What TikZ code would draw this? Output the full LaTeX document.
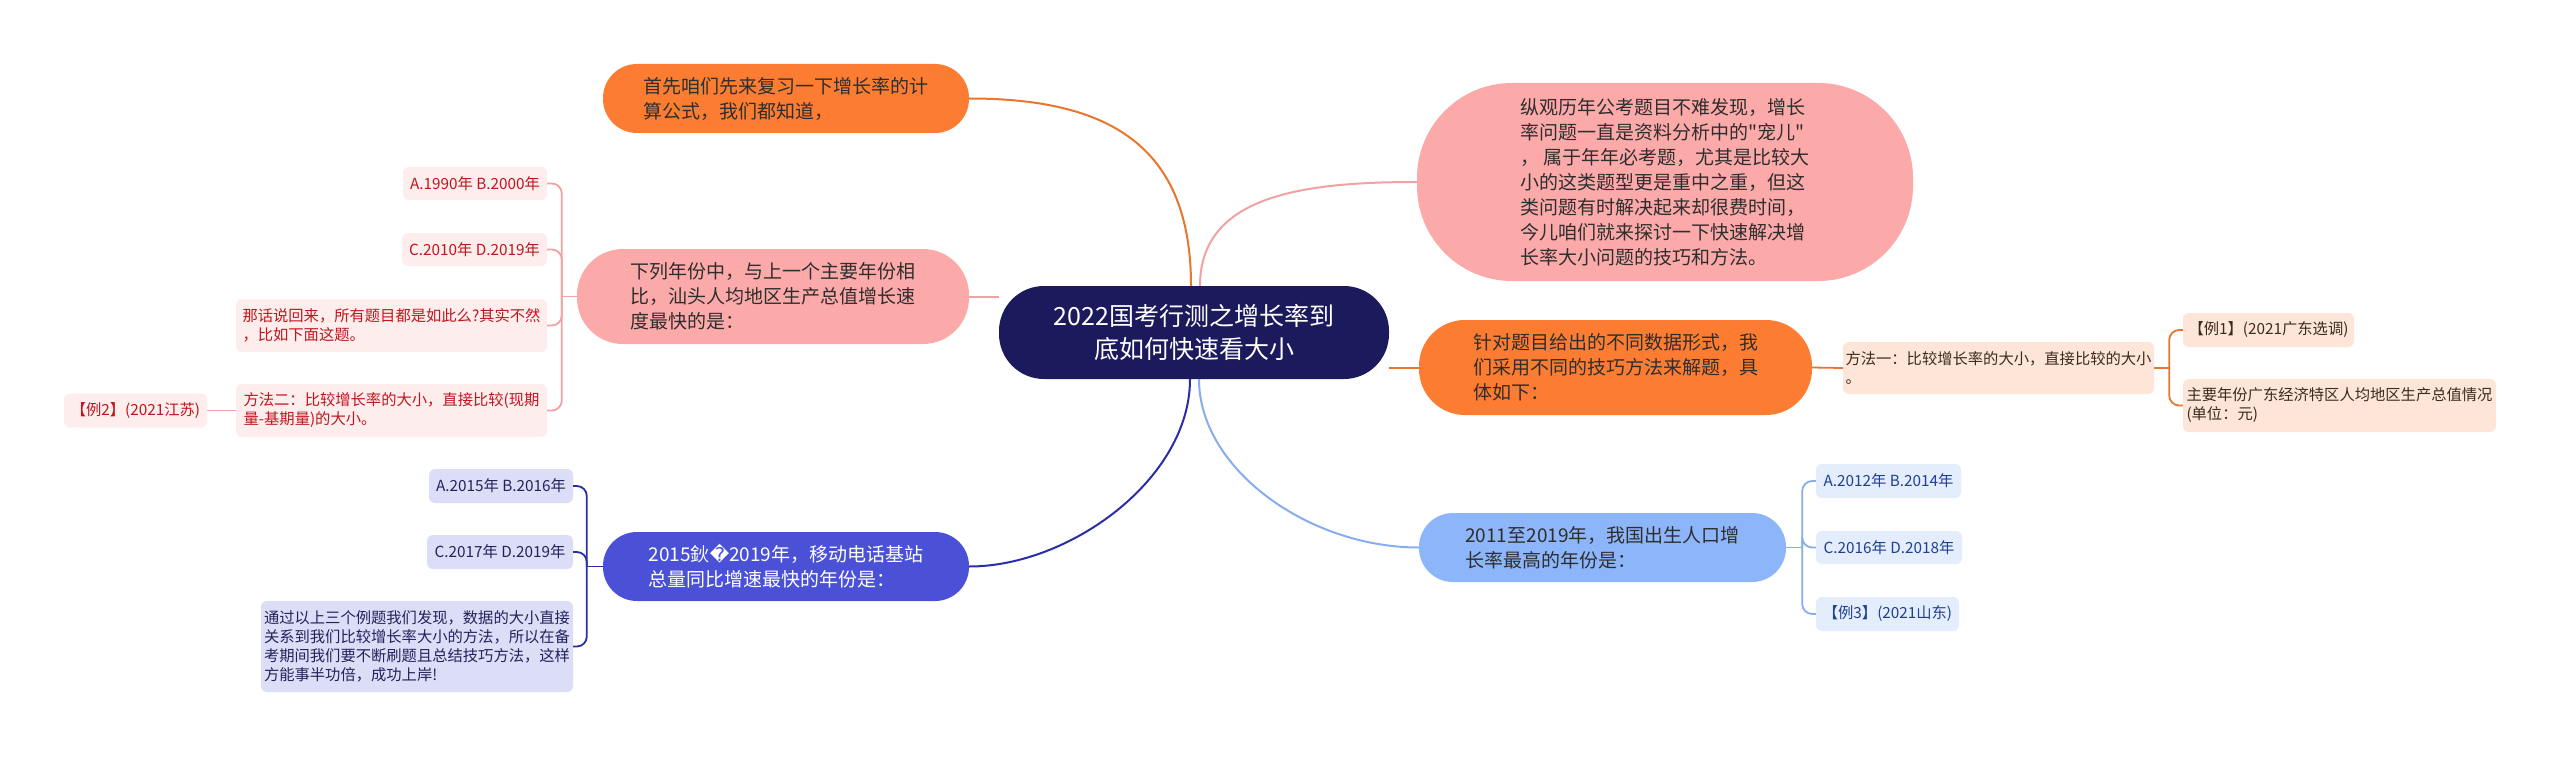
\documentclass[tikz,border=0pt]{standalone}
\usepackage{fontspec}
\setmainfont{Noto Sans CJK SC}
\newfontfamily\plainq{Noto Sans CJK SC}
\newfontfamily\dejavu{DejaVu Sans}
\definecolor{navy}{HTML}{1B1A5C}
\definecolor{orangeN}{HTML}{FC7D32}
\definecolor{pinkN}{HTML}{FCA9A9}
\definecolor{blueN}{HTML}{4A51D6}
\definecolor{lblueN}{HTML}{8DB5FA}
\definecolor{maintext}{HTML}{2E2E2E}
\definecolor{pinkLeaf}{HTML}{FDEDED}
\definecolor{pinkText}{HTML}{C0161E}
\definecolor{blueLeaf}{HTML}{DCDDF7}
\definecolor{blueText}{HTML}{22235A}
\definecolor{orangeLeaf}{HTML}{FDE5D8}
\definecolor{orangeText}{HTML}{3F2A1C}
\definecolor{lblueLeaf}{HTML}{E4EDFC}
\definecolor{lblueText}{HTML}{1F3F92}
\definecolor{orangeC}{HTML}{E9762F}
\definecolor{pinkC}{HTML}{F2A2A2}
\definecolor{blueC}{HTML}{2A2EA6}
\definecolor{lblueC}{HTML}{86AEEF}
\tikzset{
  mnode/.style={inner sep=0pt, font=\fontsize{19}{25}\selectfont, align=left, text=maintext},
  leaf/.style={inner sep=0pt, rounded corners=6pt, font=\fontsize{15.3}{19}\selectfont, align=left},
  pleaf/.style={leaf, fill=pinkLeaf, text=pinkText},
  bleaf/.style={leaf, fill=blueLeaf, text=blueText},
  oleaf/.style={leaf, fill=orangeLeaf, text=orangeText},
  cleaf/.style={leaf, fill=lblueLeaf, text=lblueText},
  conn/.style={line width=2pt},
  brk/.style={line width=1.8pt, rounded corners=10pt},
}
\begin{document}
\begin{tikzpicture}[x=1pt,y=-1pt]
\fill[white] (0,0) rectangle (2560,757);
\useasboundingbox (0,0) rectangle (2560,757);

% main nodes
\node[mnode, fill=navy, text=white, font=\fontsize{25}{33}\selectfont, align=center,
  minimum width=390pt, minimum height=93pt, rounded corners=45pt] (c) at (1194,332.5)
  {2022国考行测之增长率到\\底如何快速看大小};
\node[mnode, fill=orangeN, minimum width=366pt, minimum height=69pt, rounded corners=34pt] (n1) at (786,98.5)
  {首先咱们先来复习一下增长率的计\\算公式，我们都知道，};
\node[mnode, fill=pinkN, minimum width=392pt, minimum height=95pt, rounded corners=46pt] (n2) at (773,296.5)
  {下列年份中，与上一个主要年份相\\比，汕头人均地区生产总值增长速\\度最快的是：};
\node[mnode, fill=blueN, text=white, minimum width=366pt, minimum height=69pt, rounded corners=34pt] (n3) at (786,566.5)
  {2015鈥{\dejavu ^^^^fffd}2019年，移动电话基站\\总量同比增速最快的年份是：};
\node[mnode, fill=pinkN, minimum width=496pt, minimum height=198pt, rounded corners=95pt] (n4) at (1665,182)
  {纵观历年公考题目不难发现，增长\\率问题一直是资料分析中的{\plainq "}宠儿{\plainq "}\\，\ 属于年年必考题，尤其是比较大\\小的这类题型更是重中之重，但这\\类问题有时解决起来却很费时间，\\今儿咱们就来探讨一下快速解决增\\长率大小问题的技巧和方法。};
\node[mnode, fill=orangeN, minimum width=393pt, minimum height=95pt, rounded corners=46pt] (n5) at (1615.5,367.5)
  {针对题目给出的不同数据形式，我\\们采用不同的技巧方法来解题，具\\体如下：};
\node[mnode, fill=lblueN, minimum width=367pt, minimum height=69pt, rounded corners=34pt] (n6) at (1602.5,547.5)
  {2011至2019年，我国出生人口增\\长率最高的年份是：};

% pink leaves
\node[pleaf, minimum width=144pt, minimum height=33pt] (l1) at (475,183.5) {A.1990年 B.2000年};
\node[pleaf, minimum width=145pt, minimum height=33pt] (l2) at (474.5,249.5) {C.2010年 D.2019年};
\node[pleaf, minimum width=311pt, minimum height=53pt] (l3) at (391.5,325.5) {那话说回来，所有题目都是如此么?其实不然\\，比如下面这题。};
\node[pleaf, minimum width=311pt, minimum height=53pt] (l4) at (391.5,410.5) {方法二：比较增长率的大小，直接比较(现期\\量-基期量)的大小。};
\node[pleaf, minimum width=143pt, minimum height=34pt] (l5) at (135.5,410.5) {【例2】(2021江苏)};

% blue leaves
\node[bleaf, minimum width=144pt, minimum height=34pt] (b1) at (501,486) {A.2015年 B.2016年};
\node[bleaf, minimum width=146pt, minimum height=34pt] (b2) at (500,552) {C.2017年 D.2019年};
\node[bleaf, minimum width=312pt, minimum height=91pt] (b3) at (417,646.5) {通过以上三个例题我们发现，数据的大小直接\\关系到我们比较增长率大小的方法，所以在备\\考期间我们要不断刷题且总结技巧方法，这样\\方能事半功倍，成功上岸!};

% orange leaves
\node[oleaf, minimum width=311pt, minimum height=52pt] (o1) at (1998.5,368) {方法一：比较增长率的大小，直接比较的大小\\。};
\node[oleaf, minimum width=171pt, minimum height=34pt] (o2) at (2268.5,330) {【例1】(2021广东选调)};
\node[oleaf, minimum width=313pt, minimum height=53pt] (o3) at (2339.5,405.5) {主要年份广东经济特区人均地区生产总值情况\\(单位：元)};

% light blue leaves
\node[cleaf, minimum width=145pt, minimum height=34pt] (c1) at (1888.5,481) {A.2012年 B.2014年};
\node[cleaf, minimum width=146pt, minimum height=33pt] (c2) at (1889,547.5) {C.2016年 D.2018年};
\node[cleaf, minimum width=143pt, minimum height=34pt] (c3) at (1887.5,614) {【例3】(2021山东)};

% main connectors
\draw[conn, orangeC] ([xshift=-3pt]c.north) .. controls +(0,-140) and +(140,0) .. (n1.east);
\draw[conn, pinkC] ([xshift=6pt]c.north) .. controls +(0,-90) and +(-115,0) .. (n4.west);
\draw[conn, blueC] ([xshift=-4pt]c.south) .. controls +(0,100) and +(100,0) .. (n3.east);
\draw[conn, lblueC] ([xshift=5pt]c.south) .. controls +(0,90) and +(-110,0) .. (n6.west);
\draw[conn, pinkC] (c.west |- n2.east) -- (n2.east);
\draw[conn, orangeC] (c.east |- n5.west) -- (n5.west);

% pink bracket
\draw[brk, pinkC] (n2.west) -- ++(-15,0) coordinate (pj);
\foreach \t in {l1,l2,l3,l4} \draw[brk, pinkC] (pj) |- (\t.east);
\draw[brk, pinkC] (l4.west) -- (l5.east);

% blue bracket
\draw[brk, blueC] (n3.west) -- ++(-16,0) coordinate (bj);
\foreach \t in {b1,b2,b3} \draw[brk, blueC] (bj) |- (\t.east);

% orange bracket
\draw[brk, orangeC] (n5.east) -- (o1.west);
\draw[brk, orangeC] (o1.east) -- ++(15,0) coordinate (oj);
\foreach \t in {o2,o3} \draw[brk, orangeC] (oj) |- (\t.west);

% light blue bracket
\draw[brk, lblueC] (n6.east) -- ++(16,0) coordinate (cj);
\foreach \t in {c1,c2,c3} \draw[brk, lblueC] (cj) |- (\t.west);
\end{tikzpicture}
\end{document}
